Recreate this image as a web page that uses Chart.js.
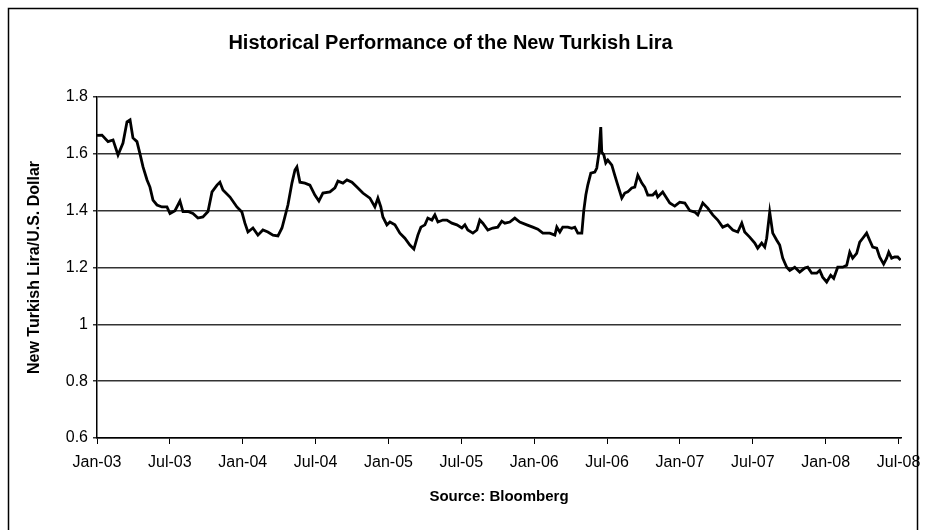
<!DOCTYPE html>
<html>
<head>
<meta charset="utf-8">
<script src="https://cdn.jsdelivr.net/npm/chart.js@4.4.1/dist/chart.umd.min.js"></script>
<style>
html,body{margin:0;padding:0;background:#fff;}
#wrap{width:935px;height:530px;position:relative;}
</style>
</head>
<body>
<div id="wrap"><canvas id="c" width="935" height="530"></canvas></div>
<script>
// Months elapsed since Jan-2003 for each observation
const monthsSinceJan03 = [0,0.41,0.91,1.32,1.73,2.14,2.47,2.72,2.96,3.29,3.54,3.79,4.12,4.36,4.61,4.94,5.35,5.76,6.01,6.42,6.83,7.08,7.49,7.90,8.31,8.72,9.14,9.47,9.88,10.12,10.37,10.95,11.52,11.93,12.18,12.43,12.84,13.25,13.66,14.07,14.49,14.90,15.23,15.47,15.72,16.05,16.30,16.46,16.71,17.12,17.53,17.94,18.27,18.60,19.18,19.59,19.84,20.25,20.58,20.99,21.40,21.89,22.47,22.88,23.13,23.37,23.54,23.87,24.12,24.53,24.94,25.35,25.76,26.09,26.42,26.67,27.00,27.24,27.57,27.82,28.07,28.48,28.81,29.22,29.63,30.04,30.29,30.53,30.95,31.28,31.52,31.77,32.18,32.59,33.00,33.33,33.58,33.99,34.40,34.81,35.39,35.88,36.30,36.71,37.28,37.70,37.86,38.11,38.35,38.77,39.09,39.34,39.59,39.92,40.08,40.25,40.41,40.66,40.99,41.15,41.32,41.48,41.56,41.73,41.89,42.06,42.39,42.63,42.88,43.21,43.46,43.70,44.03,44.28,44.53,44.86,45.10,45.35,45.76,46.01,46.17,46.58,46.91,47.16,47.57,47.98,48.40,48.81,49.22,49.47,49.88,50.29,50.70,51.11,51.52,51.93,52.35,52.76,53.09,53.33,53.74,54.16,54.40,54.73,54.98,55.14,55.39,55.64,55.97,56.21,56.46,56.79,57.04,57.45,57.86,58.27,58.52,58.85,59.26,59.51,59.75,60.08,60.41,60.66,60.99,61.40,61.73,61.98,62.22,62.55,62.80,63.05,63.37,63.62,63.87,64.20,64.44,64.77,65.02,65.19,65.43,65.68,65.93,66.17];
// New Turkish Lira per U.S. Dollar
const liraPerDollar = [1.665,1.666,1.643,1.649,1.596,1.638,1.713,1.72,1.656,1.643,1.60,1.554,1.508,1.483,1.437,1.42,1.413,1.413,1.39,1.40,1.434,1.397,1.397,1.39,1.374,1.378,1.397,1.466,1.49,1.50,1.473,1.448,1.413,1.395,1.356,1.325,1.339,1.314,1.332,1.325,1.314,1.311,1.339,1.378,1.42,1.497,1.543,1.554,1.50,1.497,1.49,1.455,1.434,1.462,1.466,1.48,1.504,1.497,1.508,1.50,1.483,1.462,1.444,1.413,1.444,1.413,1.378,1.35,1.36,1.35,1.321,1.303,1.279,1.265,1.314,1.342,1.35,1.374,1.367,1.385,1.36,1.367,1.367,1.356,1.35,1.339,1.35,1.332,1.321,1.332,1.367,1.356,1.332,1.339,1.342,1.363,1.356,1.36,1.374,1.36,1.35,1.342,1.335,1.321,1.321,1.314,1.342,1.325,1.342,1.342,1.338,1.342,1.321,1.321,1.40,1.455,1.49,1.532,1.536,1.55,1.60,1.694,1.606,1.596,1.568,1.578,1.56,1.525,1.49,1.444,1.462,1.466,1.48,1.483,1.525,1.497,1.483,1.455,1.455,1.466,1.448,1.466,1.444,1.427,1.416,1.43,1.427,1.40,1.395,1.385,1.427,1.409,1.385,1.367,1.342,1.35,1.332,1.325,1.356,1.325,1.307,1.286,1.268,1.286,1.272,1.303,1.395,1.321,1.296,1.279,1.233,1.201,1.19,1.201,1.184,1.198,1.201,1.18,1.18,1.19,1.166,1.149,1.173,1.162,1.201,1.201,1.208,1.254,1.233,1.25,1.289,1.303,1.321,1.296,1.272,1.268,1.237,1.212,1.233,1.254,1.233,1.237,1.237,1.226];

const xTickMonths = [0,6,12,18,24,30,36,42,48,54,60,66];
const xTickLabels = ['Jan-03','Jul-03','Jan-04','Jul-04','Jan-05','Jul-05','Jan-06','Jul-06','Jan-07','Jul-07','Jan-08','Jul-08'];
const yTickValues = [0.6,0.8,1,1.2,1.4,1.6,1.8];
const yTickLabels = ['0.6','0.8','1','1.2','1.4','1.6','1.8'];

const chartTitle = 'Historical Performance of the New Turkish Lira';
const yTitle = 'New Turkish Lira/U.S. Dollar';
const xTitle = 'Source: Bloomberg';

const FONT = '"Liberation Sans", Arial, Helvetica, sans-serif';

const points = monthsSinceJan03.map((m, i) => ({x: m, y: liraPerDollar[i]}));

const framePlugin = {
  id: 'frame',
  beforeDraw(chart) {
    const ctx = chart.ctx;
    ctx.save();
    ctx.fillStyle = '#fff';
    ctx.fillRect(0, 0, chart.width, chart.height);
    ctx.restore();
  },
  afterDraw(chart) {
    const ctx = chart.ctx;
    ctx.save();
    ctx.strokeStyle = '#000';
    ctx.lineWidth = 1.5;
    ctx.strokeRect(8.5, 8.5, 909, 560);
    ctx.restore();
  }
};

new Chart(document.getElementById('c'), {
  type: 'line',
  data: {
    datasets: [{
      data: points,
      borderColor: '#000',
      borderWidth: 2.8,
      pointRadius: 0,
      tension: 0,
      fill: false
    }]
  },
  options: {
    responsive: false,
    animation: false,
    layout: {padding: {left: 0, right: 34, top: 0, bottom: 0}},
    plugins: {
      legend: {display: false},
      tooltip: {enabled: false},
      title: {
        display: true,
        text: chartTitle,
        color: '#000',
        font: {family: FONT, size: 20, weight: 'bold'},
        padding: {top: 31, bottom: 42}
      }
    },
    scales: {
      x: {
        type: 'linear',
        min: 0,
        max: 66.2,
        afterBuildTicks(scale) { scale.ticks = xTickMonths.map(v => ({value: v})); },
        afterFit(scale) { scale.height = 92; },
        ticks: {
          color: '#000',
          font: {family: FONT, size: 16},
          padding: 9,
          maxRotation: 0,
          autoSkip: false,
          callback: (v) => xTickLabels[xTickMonths.indexOf(v)]
        },
        grid: {drawOnChartArea: false, drawTicks: true, tickLength: 6, color: '#000', lineWidth: 1},
        border: {display: true, color: '#000', width: 1.5},
        title: {
          display: true,
          text: xTitle,
          color: '#000',
          font: {family: FONT, size: 15, weight: 'bold'},
          padding: {top: 0, bottom: 24}
        }
      },
      y: {
        type: 'linear',
        min: 0.6,
        max: 1.8,
        afterBuildTicks(scale) { scale.ticks = yTickValues.map(v => ({value: v})); },
        afterFit(scale) { scale.width = 97; },
        ticks: {
          color: '#000',
          font: {family: FONT, size: 16},
          padding: 5,
          callback: (v) => yTickLabels[yTickValues.indexOf(v)]
        },
        grid: {drawOnChartArea: true, drawTicks: true, tickLength: 4, color: '#333', lineWidth: 1.5},
        border: {display: true, color: '#000', width: 1.5},
        title: {
          display: true,
          text: yTitle,
          color: '#000',
          font: {family: FONT, size: 16, weight: 'bold'},
          padding: {top: 25, bottom: 0}
        }
      }
    }
  },
  plugins: [framePlugin]
});
</script>
</body>
</html>
